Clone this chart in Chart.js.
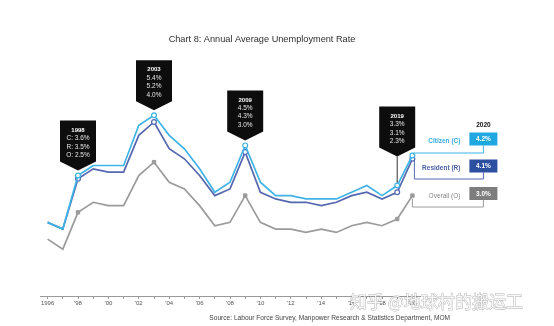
<!DOCTYPE html>
<html>
<head>
<meta charset="utf-8">
<script src="https://cdn.jsdelivr.net/npm/chart.js@4"></script>
<style>
  html, body { margin: 0; padding: 0; background: #fff; }
  #wrap { width: 554px; height: 326px; }
</style>
</head>
<body>
<div id="wrap"><canvas id="rateChart" width="554" height="326"></canvas></div>
<script>
// Annual average unemployment rate (%), 1996-2020
const years = ['1996', '1997', '1998', '1999', '2000', '2001', '2002', '2003', '2004', '2005',
               '2006', '2007', '2008', '2009', '2010', '2011', '2012', '2013', '2014', '2015',
               '2016', '2017', '2018', '2019', '2020'];
const tickLabels = ['1996', '', "'98", '', "'00", '', "'02", '', "'04", '', "'06", '', "'08", '',
                    "'10", '', "'12", '', "'14", '', "'16", '', "'18", '', "'20"];
const citizen  = [2.2, 2.0, 3.6, 3.9, 3.9, 3.9, 5.1, 5.4, 4.8, 4.4, 3.8, 3.1, 3.4, 4.5, 3.4,
                  3.0, 3.0, 2.9, 2.9, 2.9, 3.1, 3.3, 3.0, 3.3, 4.2];
const resident = [2.2, 2.0, 3.5, 3.8, 3.7, 3.7, 4.8, 5.2, 4.4, 4.1, 3.6, 3.0, 3.2, 4.3, 3.1,
                  2.9, 2.8, 2.8, 2.7, 2.8, 3.0, 3.1, 2.9, 3.1, 4.1];
const overall  = [1.7, 1.4, 2.5, 2.8, 2.7, 2.7, 3.6, 4.0, 3.4, 3.2, 2.7, 2.1, 2.2, 3.0, 2.2,
                  2.0, 2.0, 1.9, 2.0, 1.9, 2.1, 2.2, 2.1, 2.3, 3.0];
const calloutYears = ['1998', '2003', '2009', '2019'];
const latestYear = '2020';
const seriesNames = ['Citizen (C)', 'Resident (R)', 'Overall (O)'];

const FONT = '"Liberation Sans", Arial, Helvetica, sans-serif';
const C_COLOR = '#3db3e6';
const R_COLOR = '#5468b0';
const O_COLOR = '#9b9b9b';

const markedYears = calloutYears.concat([latestYear]);
const markerRadius = ctx => markedYears.includes(years[ctx.dataIndex]) ? 2.4 : 0;

const pct = v => v.toFixed(1) + '%';

const annotations = {
  id: 'annotations',
  beforeDraw(chart) {
    const ctx = chart.ctx;
    ctx.save();
    ctx.fillStyle = '#fff';
    ctx.fillRect(0, 0, chart.width, chart.height);
    ctx.restore();
  },
  afterDatasetsDraw(chart) {
    const ctx = chart.ctx;
    const xs = chart.scales.x, ys = chart.scales.y;
    ctx.save();

    // black pointer boxes above the peaks
    calloutYears.forEach((yr, i) => {
      const idx = years.indexOf(yr);
      const px = xs.getPixelForValue(idx);
      const pointY = ys.getPixelForValue(Math.max(citizen[idx], resident[idx], overall[idx]));
      const stem = yr === '2019' ? 24 : 0;
      const tipY = pointY - 5 - stem;
      const bodyBottom = tipY - 9;
      const bodyTop = bodyBottom - 41;
      const half = 18;

      if (stem) {
        ctx.strokeStyle = '#333';
        ctx.lineWidth = 1;
        ctx.beginPath();
        ctx.moveTo(px, tipY);
        ctx.lineTo(px, pointY - 3);
        ctx.stroke();
      }

      ctx.fillStyle = '#0d0d0d';
      ctx.beginPath();
      ctx.moveTo(px - half, bodyTop);
      ctx.lineTo(px + half, bodyTop);
      ctx.lineTo(px + half, bodyBottom);
      ctx.lineTo(px, tipY);
      ctx.lineTo(px - half, bodyBottom);
      ctx.closePath();
      ctx.fill();

      const lines = i === 0
        ? ['C: ' + pct(citizen[idx]), 'R: ' + pct(resident[idx]), 'O: ' + pct(overall[idx])]
        : [pct(citizen[idx]), pct(resident[idx]), pct(overall[idx])];
      ctx.textAlign = 'center';
      ctx.textBaseline = 'middle';
      ctx.fillStyle = '#fff';
      ctx.font = 'bold 6px ' + FONT;
      ctx.fillText(yr, px, bodyTop + 9.5);
      ctx.fillStyle = '#e6e6e6';
      ctx.font = '6.5px ' + FONT;
      lines.forEach((t, k) => ctx.fillText(t, px, bodyTop + 18 + k * 8.3));
    });

    // latest-year labels on the right
    const li = years.indexOf(latestYear);
    const px = xs.getPixelForValue(li);
    const boxCx = px + 71;
    const textRight = px + 48;
    const yC = ys.getPixelForValue(citizen[li]);
    const yR = ys.getPixelForValue(resident[li]);
    const yO = ys.getPixelForValue(overall[li]);

    ctx.textAlign = 'center';
    ctx.textBaseline = 'middle';
    ctx.fillStyle = '#111';
    ctx.font = 'bold 6.5px ' + FONT;
    ctx.fillText(latestYear, boxCx, 125);

    const rows = [
      { name: seriesNames[0], value: citizen[li], color: C_COLOR, box: '#1fa8e0', text: '#37ade0', top: 132.5, bold: true },
      { name: seriesNames[1], value: resident[li], color: R_COLOR, box: '#2d4f9f', text: '#4b5fa9', top: 159.5, bold: true },
      { name: seriesNames[2], value: overall[li], color: O_COLOR, box: '#7d7d7d', text: '#8a8a8a', top: 187, bold: false }
    ];

    // connectors from the 2020 points to the value boxes
    ctx.lineWidth = 1;
    ctx.strokeStyle = rows[0].color;
    ctx.beginPath();
    ctx.moveTo(px + 1, yC - 1);
    ctx.lineTo(px + 1, 153);
    ctx.lineTo(boxCx, 153);
    ctx.lineTo(boxCx, rows[0].top + 13);
    ctx.stroke();

    ctx.strokeStyle = rows[1].color;
    ctx.beginPath();
    ctx.moveTo(px + 2, yR + 2);
    ctx.lineTo(px + 2, 179);
    ctx.lineTo(boxCx, 179);
    ctx.lineTo(boxCx, rows[1].top + 13);
    ctx.stroke();

    ctx.strokeStyle = rows[2].color;
    ctx.beginPath();
    ctx.moveTo(px, yO + 3);
    ctx.lineTo(px, 207);
    ctx.lineTo(boxCx, 207);
    ctx.lineTo(boxCx, rows[2].top + 13);
    ctx.stroke();

    rows.forEach(r => {
      ctx.fillStyle = r.box;
      ctx.fillRect(boxCx - 14, r.top, 28, 13);
      ctx.fillStyle = '#fff';
      ctx.textAlign = 'center';
      ctx.font = 'bold 6.5px ' + FONT;
      ctx.fillText(pct(r.value), boxCx, r.top + 6.8);
      ctx.fillStyle = r.text;
      ctx.textAlign = 'right';
      ctx.font = (r.bold ? 'bold ' : '') + '6.5px ' + FONT;
      ctx.fillText(r.name, textRight, r.top + 9);
    });

    ctx.restore();
  },
  afterDraw(chart) {
    const ctx = chart.ctx;
    ctx.save();
    ctx.textBaseline = 'middle';

    ctx.fillStyle = '#2e2e2e';
    ctx.textAlign = 'center';
    ctx.font = '9.2px ' + FONT;
    ctx.fillText('Chart 8: Annual Average Unemployment Rate', 262, 39);

    ctx.fillStyle = '#444';
    ctx.textAlign = 'right';
    ctx.font = '6.6px ' + FONT;
    ctx.fillText('Source: Labour Force Survey, Manpower Research & Statistics Department, MOM', 450, 318);

    ctx.textAlign = 'left';
    ctx.font = '17px "Noto Sans CJK SC", sans-serif';
    ctx.lineWidth = 0.8;
    ctx.strokeStyle = 'rgba(110,110,110,0.55)';
    ctx.fillStyle = 'rgba(255,255,255,0.85)';
    ctx.strokeText('知乎 @地球村的搬运工', 350, 302);
    ctx.fillText('知乎 @地球村的搬运工', 350, 302);
    ctx.restore();
  }
};

new Chart(document.getElementById('rateChart'), {
  type: 'line',
  data: {
    labels: years,
    datasets: [
      { label: seriesNames[0], data: citizen, borderColor: C_COLOR, backgroundColor: '#fff',
        pointBorderColor: C_COLOR, pointRadius: markerRadius, pointBorderWidth: 1.2 },
      { label: seriesNames[1], data: resident, borderColor: R_COLOR, backgroundColor: '#fff',
        pointBorderColor: R_COLOR, pointRadius: markerRadius, pointBorderWidth: 1.2 },
      { label: seriesNames[2], data: overall, borderColor: O_COLOR, backgroundColor: O_COLOR,
        pointStyle: 'rect', pointRadius: markerRadius, pointBorderWidth: 1 }
    ]
  },
  options: {
    responsive: false,
    animation: false,
    devicePixelRatio: 1,
    layout: { padding: { top: 45, bottom: 17.8, left: 40, right: 134 } },
    elements: { line: { borderWidth: 1.7, tension: 0 } },
    plugins: { legend: { display: false }, tooltip: { enabled: false } },
    scales: {
      x: {
        offset: true,
        grid: { display: true, drawOnChartArea: false, drawTicks: true, tickLength: 3, color: '#9a9a9a', offset: false },
        border: { display: true, color: '#9a9a9a', width: 1 },
        ticks: {
          autoSkip: false, maxRotation: 0, padding: 1, color: '#555',
          font: { family: FONT, size: 6 },
          callback: (v, i) => tickLabels[i]
        }
      },
      y: { display: false, min: 0, max: 7.5 }
    }
  },
  plugins: [annotations]
});
</script>
</body>
</html>
